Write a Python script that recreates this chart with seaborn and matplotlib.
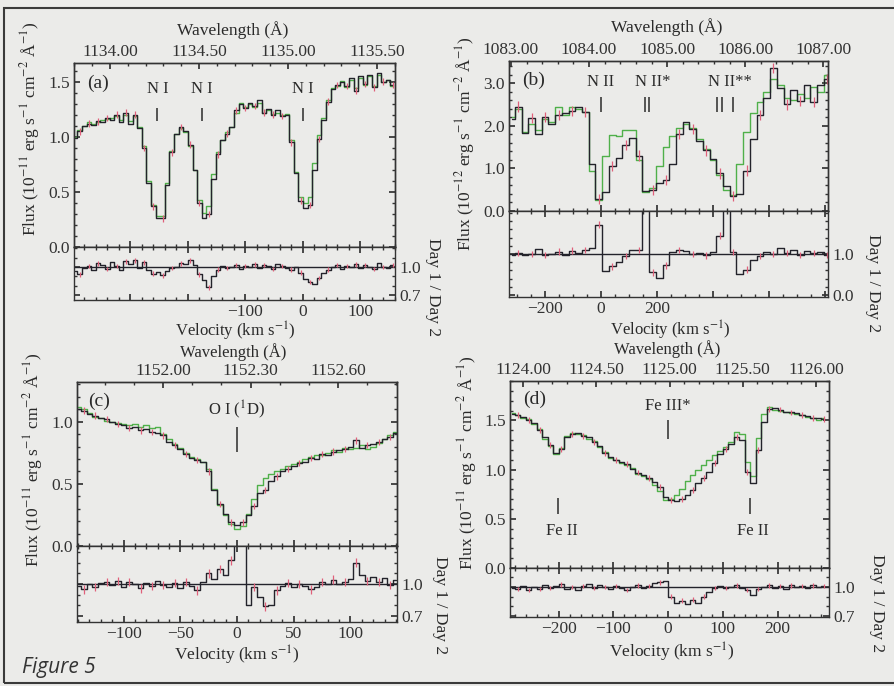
import matplotlib.pyplot as plt
import matplotlib.patches as mpatches
from matplotlib.ticker import MultipleLocator, FormatStrFormatter
import numpy as np
import seaborn as sns

# Dati (Day 1 = nero, Day 2 = verde, rapporto Day1/Day2)

# (a) N I
vel_a = np.arange(-396, 157, 8)
day1_a = [0.99, 1.05, 1.10, 1.12, 1.11, 1.14, 1.13, 1.17, 1.15, 1.20,
          1.13, 1.22, 1.12, 1.20, 1.08, 0.90, 0.58, 0.37, 0.26, 0.26,
          0.56, 0.86, 1.03, 1.09, 1.05, 0.93, 0.70, 0.40, 0.26, 0.30,
          0.62, 0.84, 0.97, 1.03, 1.09, 1.24, 1.30, 1.26, 1.31, 1.28,
          1.33, 1.22, 1.25, 1.20, 1.24, 1.19, 1.20, 0.95, 0.67, 0.42,
          0.35, 0.38, 0.70, 0.98, 1.15, 1.32, 1.43, 1.47, 1.50, 1.46,
          1.53, 1.42, 1.55, 1.48, 1.56, 1.45, 1.58, 1.50, 1.52, 1.47]
day2_a = [1.00, 1.06, 1.10, 1.13, 1.12, 1.13, 1.15, 1.16, 1.17, 1.19,
          1.15, 1.20, 1.14, 1.19, 1.09, 0.92, 0.60, 0.38, 0.28, 0.28,
          0.58, 0.87, 1.03, 1.08, 1.04, 0.92, 0.70, 0.43, 0.31, 0.37,
          0.66, 0.86, 0.97, 1.04, 1.09, 1.22, 1.31, 1.27, 1.30, 1.27,
          1.31, 1.22, 1.24, 1.21, 1.22, 1.20, 1.21, 0.97, 0.68, 0.45,
          0.40, 0.45, 0.76, 1.02, 1.17, 1.33, 1.44, 1.46, 1.51, 1.45,
          1.52, 1.44, 1.53, 1.47, 1.55, 1.46, 1.56, 1.50, 1.52, 1.46]
ratio_a = [0.96, 0.92, 0.99, 1.01, 0.97, 1.04, 1.02, 0.98, 1.05, 1.01,
           0.97, 1.06, 1.03, 1.07, 0.99, 1.05, 0.97, 0.93, 0.95, 0.91,
           0.96, 0.99, 1.00, 1.04, 1.03, 1.07, 1.02, 0.92, 0.86, 0.78,
           0.90, 0.97, 1.01, 0.99, 1.00, 1.02, 0.98, 1.01, 1.00, 1.03,
           0.99, 1.02, 1.01, 0.98, 1.03, 1.01, 0.99, 0.97, 1.00, 0.94,
           0.87, 0.84, 0.82, 0.88, 0.94, 0.97, 1.00, 1.02, 0.98, 1.01,
           1.00, 1.03, 0.99, 1.02, 1.00, 0.98, 1.04, 1.00, 0.99, 1.02]

# (b) N II
vel_b = np.arange(-320, 809, 24)
day1_b = [2.15, 2.45, 1.83, 2.18, 1.80, 2.20, 2.05, 2.25, 2.30, 2.35,
          2.45, 2.33, 1.10, 0.28, 0.45, 1.05, 1.25, 1.55, 1.72, 1.30,
          0.48, 0.50, 0.65, 0.72, 1.10, 1.80, 2.08, 1.92, 1.65, 1.42,
          1.22, 0.88, 0.58, 0.36, 0.40, 0.95, 1.70, 2.25, 2.65, 3.35,
          2.88, 2.50, 2.85, 2.58, 2.95, 2.55, 2.95, 3.10]
day2_b = [2.20, 2.40, 1.85, 2.05, 1.90, 2.15, 2.10, 2.45, 2.25, 2.45,
          2.40, 2.33, 0.95, 0.25, 1.30, 1.78, 1.75, 1.90, 1.90, 1.20,
          0.45, 0.55, 1.05, 1.50, 1.75, 1.95, 2.05, 1.95, 1.70, 1.45,
          1.20, 0.85, 0.50, 0.38, 1.10, 1.85, 2.30, 2.55, 2.80, 3.10,
          2.95, 2.65, 2.60, 2.75, 2.65, 2.90, 2.80, 3.20]
ratio_b = [0.98, 1.02, 0.97, 1.00, 1.12, 0.98, 1.00, 1.06, 0.98, 1.08,
           1.02, 1.10, 1.15, 1.72, 0.58, 0.70, 0.80, 0.95, 1.10, 1.10,
           2.10, 0.55, 0.42, 0.72, 1.05, 1.10, 1.08, 1.00, 1.02, 0.97,
           1.05, 1.45, 2.40, 1.05, 0.50, 0.62, 0.85, 0.95, 1.05, 1.00,
           1.15, 1.02, 1.10, 0.98, 1.08, 1.02, 1.05, 0.98]

# (c) O I (1D)
vel_c = np.arange(-140, 141, 5)
day1_c = [1.10, 1.09, 1.06, 1.05, 1.03, 1.02, 1.00, 0.98, 0.97, 0.95,
          0.96, 0.93, 0.94, 0.92, 0.91, 0.89, 0.84, 0.81, 0.78, 0.74,
          0.71, 0.69, 0.68, 0.60, 0.45, 0.34, 0.26, 0.19, 0.17, 0.19,
          0.25, 0.32, 0.43, 0.45, 0.52, 0.56, 0.60, 0.62, 0.64, 0.67,
          0.68, 0.71, 0.70, 0.74, 0.73, 0.76, 0.77, 0.78, 0.80, 0.85,
          0.79, 0.81, 0.82, 0.84, 0.86, 0.88, 0.91]
day2_c = [1.12, 1.10, 1.07, 1.04, 1.03, 1.01, 1.00, 0.99, 0.98, 0.97,
          0.98, 0.96, 0.97, 0.95, 0.96, 0.90, 0.86, 0.82, 0.79, 0.75,
          0.72, 0.70, 0.68, 0.62, 0.46, 0.33, 0.25, 0.18, 0.14, 0.16,
          0.26, 0.38, 0.49, 0.55, 0.58, 0.60, 0.62, 0.64, 0.66, 0.68,
          0.70, 0.72, 0.73, 0.73, 0.75, 0.77, 0.76, 0.79, 0.78, 0.79,
          0.81, 0.78, 0.80, 0.83, 0.86, 0.89, 0.92]
ratio_c = [0.98, 0.95, 1.00, 0.97, 1.01, 1.02, 0.99, 1.03, 0.97, 1.02,
           1.00, 0.96, 1.01, 0.98, 1.03, 0.99, 0.97, 1.01, 0.96, 1.02,
           0.98, 0.94, 1.02, 1.10, 1.05, 1.14, 1.08, 1.22, 1.40, 1.40,
           0.80, 0.97, 0.88, 0.79, 0.80, 0.94, 0.98, 1.01, 0.97, 1.00,
           0.98, 0.95, 0.97, 1.02, 1.00, 1.04, 1.00, 1.02, 1.05, 1.20,
           1.08, 1.03, 1.07, 1.02, 1.06, 0.99, 1.04]

# (d) Fe III*
vel_d = np.arange(-285, 286, 10)
day1_d = [1.56, 1.55, 1.53, 1.50, 1.47, 1.40, 1.33, 1.25, 1.17, 1.21,
          1.33, 1.36, 1.37, 1.34, 1.33, 1.28, 1.24, 1.17, 1.13, 1.10,
          1.08, 1.06, 1.01, 0.97, 0.94, 0.91, 0.87, 0.82, 0.72, 0.69,
          0.68, 0.70, 0.74, 0.79, 0.86, 0.91, 0.98, 1.07, 1.16, 1.21,
          1.26, 1.33, 1.30, 0.98, 0.86, 1.20, 1.48, 1.62, 1.63, 1.61,
          1.59, 1.58, 1.57, 1.55, 1.54, 1.52, 1.52, 1.51]
day2_d = [1.57, 1.55, 1.52, 1.51, 1.46, 1.41, 1.31, 1.24, 1.16, 1.22,
          1.34, 1.37, 1.36, 1.35, 1.31, 1.29, 1.23, 1.18, 1.12, 1.10,
          1.07, 1.05, 1.02, 0.96, 0.93, 0.90, 0.84, 0.78, 0.69, 0.70,
          0.74, 0.80, 0.88, 0.95, 1.00, 1.05, 1.10, 1.15, 1.19, 1.23,
          1.28, 1.38, 1.36, 1.08, 0.93, 1.32, 1.56, 1.64, 1.61, 1.60,
          1.58, 1.57, 1.56, 1.55, 1.53, 1.52, 1.50, 1.52]
ratio_d = [0.99, 0.98, 1.01, 0.97, 1.00, 0.98, 1.02, 0.99, 1.01, 1.03,
           0.98, 1.00, 0.97, 1.01, 1.03, 0.99, 1.02, 1.00, 0.98, 1.01,
           0.99, 0.97, 1.00, 1.02, 0.99, 1.01, 1.04, 1.05, 1.06, 0.90,
           0.84, 0.86, 0.82, 0.87, 0.84, 0.90, 0.95, 0.99, 1.01, 0.99,
           1.00, 1.02, 0.99, 0.97, 0.92, 0.98, 1.00, 1.02, 0.99, 1.01,
           0.98, 1.02, 1.00, 1.01, 0.99, 1.02, 1.00, 1.01]

# stile
W, H = 894, 686
BG = '#ebebe9'
BLACK = '#23232b'
GREEN = '#4fb04a'
RED = '#e0607a'
FS = 12.5

sns.set_theme(style='ticks')
plt.rcParams['font.family'] = ['Liberation Serif', 'DejaVu Serif']
plt.rcParams['mathtext.fontset'] = 'stix'
plt.rcParams['axes.edgecolor'] = '#333333'
plt.rcParams['axes.linewidth'] = 1.0
plt.rcParams['xtick.color'] = '#333333'
plt.rcParams['ytick.color'] = '#333333'
plt.rcParams['text.color'] = '#2a2a2a'

fig = plt.figure(figsize=(W / 100, H / 100), dpi=100, facecolor=BG)


def box(l, t, r, b):
    return [l / W, 1 - b / H, (r - l) / W, (b - t) / H]


def ftext(x, y, s, size=FS, **kw):
    fig.text(x / W, 1 - y / H, s, ha='center', va='center', fontsize=size, **kw)


def panel(main_px, res_px, vel, d1, d2, ratio, vlim, wlim, ylim, rlim,
          vticks, vlabels, vminor, wmajor, wminor, yticks, yminor,
          rticks, rminor, err, rerr, tag, tagpos, labels, marks):
    vel = np.asarray(vel)
    d1 = np.asarray(d1)
    ratio = np.asarray(ratio)

    ax = fig.add_axes(box(*main_px), facecolor=BG)
    sns.lineplot(x=vel, y=d2, ax=ax, color=GREEN, lw=1.0, drawstyle='steps-mid', estimator=None)
    sns.lineplot(x=vel, y=d1, ax=ax, color=BLACK, lw=1.0, drawstyle='steps-mid', estimator=None)
    ax.errorbar(vel[1::2], d1[1::2], yerr=err, fmt='none', ecolor=RED, elinewidth=0.9, capsize=0)
    ax.set_xlim(vlim)
    ax.set_ylim(ylim)
    ax.set_xticks(vticks)
    ax.xaxis.set_minor_locator(MultipleLocator(vminor))
    ax.set_yticks(yticks)
    ax.yaxis.set_major_formatter(FormatStrFormatter('%.1f'))
    ax.yaxis.set_minor_locator(MultipleLocator(yminor))
    ax.tick_params(which='both', direction='in', top=False, right=True,
                   labelbottom=False, labelsize=FS, pad=3)
    ax.tick_params(which='major', length=4.5)
    ax.tick_params(which='minor', length=2.2)
    ax.set_xlabel('')
    ax.set_ylabel('')
    ax.text(tagpos[0], tagpos[1], tag, transform=ax.transAxes, fontsize=14, va='center')
    for s, x, y in labels:
        ax.text(x, y, s, ha='center', va='center', fontsize=12, color='#2a2a2a')
    for x, y0, y1 in marks:
        ax.vlines(x, y0, y1, color='#2a2a2a', lw=1.1)

    top = ax.twiny()
    top.set_xlim(wlim)
    top.xaxis.set_major_locator(MultipleLocator(wmajor))
    top.xaxis.set_minor_locator(MultipleLocator(wminor))
    top.xaxis.set_major_formatter(FormatStrFormatter('%.2f'))
    top.tick_params(which='both', direction='in', labelsize=FS, pad=2)
    top.tick_params(which='major', length=4.5)
    top.tick_params(which='minor', length=2.2)

    rx = fig.add_axes(box(*res_px), facecolor=BG)
    rx.axhline(1.0, color=BLACK, lw=1.0)
    sns.lineplot(x=vel, y=ratio, ax=rx, color=BLACK, lw=1.0, drawstyle='steps-mid', estimator=None)
    rx.errorbar(vel[1::2], ratio[1::2], yerr=rerr, fmt='none', ecolor=RED, elinewidth=0.9, capsize=0)
    rx.set_xlim(vlim)
    rx.set_ylim(rlim)
    rx.set_xticks(vticks)
    rx.set_xticklabels(vlabels)
    rx.xaxis.set_minor_locator(MultipleLocator(vminor))
    rx.set_yticks(rticks)
    rx.yaxis.set_major_formatter(FormatStrFormatter('%.1f'))
    rx.yaxis.set_minor_locator(MultipleLocator(rminor))
    rx.tick_params(which='both', direction='in', top=True, right=True,
                   labelleft=False, labelright=True, labelsize=FS, pad=3)
    rx.tick_params(which='major', length=4.5)
    rx.tick_params(which='minor', length=2.2)
    rx.set_xlabel('')
    rx.set_ylabel('')


flux11 = r'Flux (10$^{-11}$ erg s$^{-1}$ cm$^{-2}$ Å$^{-1}$)'
flux12 = r'Flux (10$^{-12}$ erg s$^{-1}$ cm$^{-2}$ Å$^{-1}$)'
vlab = r'Velocity (km s$^{-1}$)'

panel((74, 63, 395, 247), (74, 247, 395, 300), vel_a, day1_a, day2_a, ratio_a,
      (-398, 160), (1133.798, 1135.601), (0, 1.67), (0.646, 1.214),
      [-300, -200, -100, 0, 100], ['', '', '−100', '0', '100'], 20, 0.5, 0.1,
      [0.0, 0.5, 1.0, 1.5], 0.1, [0.7, 1.0], 0.1, 0.03, 0.025, '(a)', (0.04, 0.89),
      [('N I', -253, 1.43), ('N I', -175, 1.43), ('N I', 0, 1.43)],
      [(-253, 1.14, 1.26), (-175, 1.14, 1.26), (0, 1.14, 1.26)])

panel((509, 61, 828, 211), (509, 211, 828, 297), vel_b, day1_b, day2_b, ratio_b,
      (-329, 811), (1082.975, 1087.06), (0, 3.52), (-0.05, 2.05),
      [-200, 0, 200, 400, 600, 800], ['−200', '0', '200', '', '', ''], 50, 1.0, 0.2,
      [0.0, 1.0, 2.0, 3.0], 0.2, [0.0, 1.0], 0.2, 0.12, 0.08, '(b)', (0.04, 0.87),
      [('N II', 0, 3.02), ('N II*', 186, 3.02), ('N II**', 461, 3.02)],
      [(0, 2.32, 2.67), (156, 2.32, 2.67), (172, 2.32, 2.67),
       (414, 2.32, 2.67), (432, 2.32, 2.67), (471, 2.32, 2.67)])

panel((77, 382, 397, 546), (77, 546, 397, 622), vel_c, day1_c, day2_c, ratio_c,
      (-141, 141), (1151.705, 1152.802), (0, 1.32), (0.645, 1.355),
      [-100, -50, 0, 50, 100], ['−100', '−50', '0', '50', '100'], 10, 0.3, 0.1,
      [0.0, 0.5, 1.0], 0.1, [0.7, 1.0], 0.1, 0.025, 0.04, '(c)', (0.035, 0.88),
      [(r'O I ($^{\rm 1}$D)', 0, 1.10)],
      [(0, 0.76, 0.96)])

panel((510, 381, 829, 568), (510, 568, 829, 617), vel_d, day1_d, day2_d, ratio_d,
      (-289, 294), (1123.911, 1126.089), (0, 1.90), (0.69, 1.197),
      [-200, -100, 0, 100, 200], ['−200', '−100', '0', '100', '200'], 20, 0.5, 0.1,
      [0.0, 0.5, 1.0, 1.5], 0.1, [0.7, 1.0], 0.1, 0.03, 0.025, '(d)', (0.04, 0.90),
      [('Fe III*', 0, 1.65), ('Fe II', -194, 0.38), ('Fe II', 155, 0.38)],
      [(0, 1.31, 1.50), (-201, 0.55, 0.71), (150, 0.55, 0.71)])

# etichette degli assi
ftext(233, 30, 'Wavelength (Å)')
ftext(667, 27, 'Wavelength (Å)')
ftext(233, 352, 'Wavelength (Å)', size=12)
ftext(667, 349, 'Wavelength (Å)', size=12)
ftext(235, 331, vlab, size=12)
ftext(670, 330, vlab, size=12)
ftext(237, 655, vlab)
ftext(672, 652, vlab)
ftext(30, 129, flux11, rotation=90)
ftext(465, 144, flux12, rotation=90)
ftext(33, 460, flux11, rotation=90)
ftext(467, 463, flux11, rotation=90)
ftext(433, 287, 'Day 1 / Day 2', rotation=270)
ftext(873, 283, 'Day 1 / Day 2', rotation=270)
ftext(440, 605, 'Day 1 / Day 2', rotation=270)
ftext(877, 603, 'Day 1 / Day 2', rotation=270)

fig.text(22 / W, 1 - 668 / H, 'Figure 5', family=['Open Sans', 'DejaVu Sans'],
         style='italic', fontsize=15, color='#333333', va='center')

# cornice
fig.patches.append(mpatches.Rectangle((4 / W, 1 - 683 / H), 900 / W, 675 / H,
                                      transform=fig.transFigure, fill=False,
                                      edgecolor='#3a3a3a', lw=1.5))

plt.savefig('out.png', dpi=100, facecolor=BG)
plt.close()
